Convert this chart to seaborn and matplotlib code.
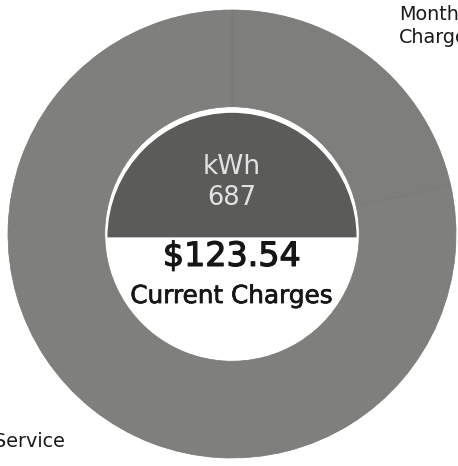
import matplotlib
matplotlib.use("Agg")
import matplotlib.pyplot as plt
import matplotlib.patheffects as pe
import seaborn as sns

# Bill breakdown
slice_labels = ["Monthly\nCharge", "Electric Service"]
slice_values = [26.60, 96.94]
usage_label = "kWh"
usage_kwh = 687
total_charges = 123.54
total_caption = "Current Charges"

sns.set_theme(style="white")
plt.rcParams["font.family"] = ["DejaVu Sans"]

ring_colors = ["#7e7f7d", "#7f807e"]
core_color = "#5b5c5a"
ink = "#161616"

W, H = 458, 466
fig = plt.figure(figsize=(W / 100, H / 100), dpi=100)
fig.patch.set_facecolor("white")

# donut centred at (232, 234) px with radius 224 px
cx, cy, r = 232, 234, 224
ax = fig.add_axes([(cx - r) / W, (H - cy - r) / H, 2 * r / W, 2 * r / H])

wedges, texts = ax.pie(
    slice_values,
    labels=slice_labels,
    colors=ring_colors,
    startangle=90,
    counterclock=False,
    radius=1.0,
    labeldistance=1.19,
    wedgeprops=dict(width=0.432, edgecolor="#777876", linewidth=0.5),
    textprops=dict(fontsize=13.8, color="#1a1a1a", linespacing=1.25),
)

# dark upper half of the centre
ax.pie([1, 1], colors=[core_color, "none"], startangle=0, counterclock=True,
       radius=0.556, center=(0, -0.015),
       wedgeprops=dict(linewidth=0))

ax.text(0, 0.30, usage_label, ha="center", va="center", fontsize=19,
        color="#e2e2e2")
ax.text(0, 0.16, f"{usage_kwh}", ha="center", va="center", fontsize=18.5,
        color="#e2e2e2")
ax.text(0, -0.10, f"${total_charges:.2f}", ha="center", va="center",
        fontsize=24, color=ink,
        path_effects=[pe.withStroke(linewidth=0.9, foreground=ink)])
ax.text(0, -0.277, total_caption, ha="center", va="center",
        fontsize=17.8, color=ink,
        path_effects=[pe.withStroke(linewidth=0.5, foreground=ink)])

ax.set_xlim(-1, 1)
ax.set_ylim(-1, 1)
ax.set_aspect("equal")
ax.axis("off")

fig.savefig("out.png", dpi=100, facecolor="white")
